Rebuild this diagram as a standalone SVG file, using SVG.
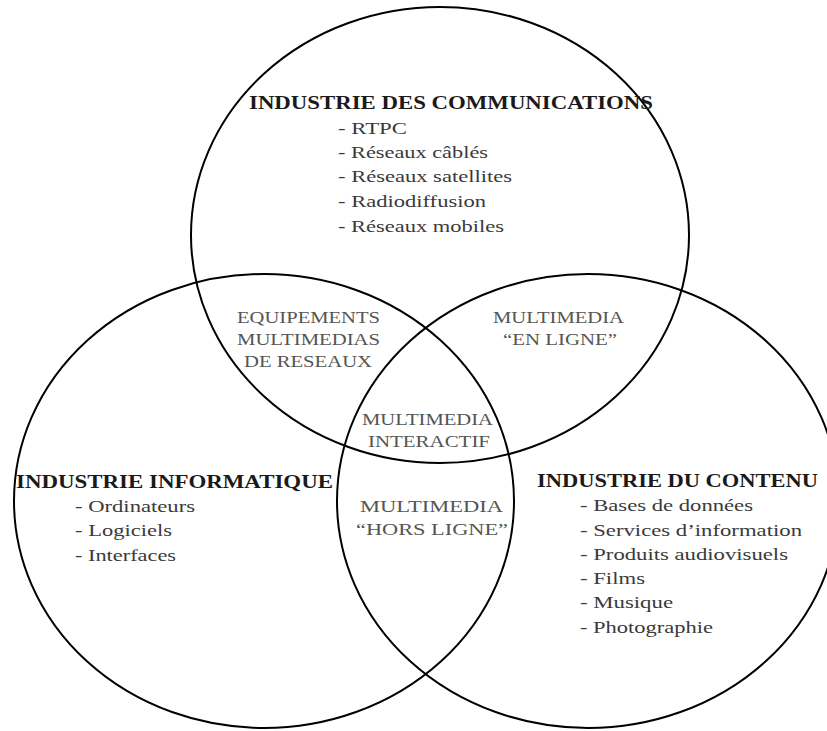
<svg xmlns="http://www.w3.org/2000/svg" width="827" height="731" viewBox="0 0 827 731">
<style>
.c{fill:none;stroke:#000;stroke-width:2}
text{font-family:"Liberation Serif","Times New Roman",serif}
.h{font-size:18px;font-weight:bold;fill:#1a1a1a}
.i{font-size:17px;fill:#3a3a3a}
.r{font-size:17px;fill:#555}
</style>
<rect width="827" height="731" fill="#fff"/>
<g id="circles">
<ellipse class="c" cx="440" cy="235" rx="249" ry="228"/>
<ellipse class="c" cx="264" cy="501" rx="250" ry="227"/>
<ellipse class="c" cx="588" cy="501" rx="251" ry="227"/>
</g>
<g id="communications">
<text class="h" x="249" y="109" textLength="404" lengthAdjust="spacingAndGlyphs">INDUSTRIE DES COMMUNICATIONS</text>
<text class="i" x="338" y="134" textLength="69" lengthAdjust="spacingAndGlyphs">- RTPC</text>
<text class="i" x="338" y="158" textLength="150" lengthAdjust="spacingAndGlyphs">- Réseaux câblés</text>
<text class="i" x="338" y="182" textLength="174" lengthAdjust="spacingAndGlyphs">- Réseaux satellites</text>
<text class="i" x="338" y="207" textLength="148" lengthAdjust="spacingAndGlyphs">- Radiodiffusion</text>
<text class="i" x="338" y="232" textLength="166" lengthAdjust="spacingAndGlyphs">- Réseaux mobiles</text>
</g>
<g id="informatique">
<text class="h" x="16" y="488" textLength="317" lengthAdjust="spacingAndGlyphs">INDUSTRIE INFORMATIQUE</text>
<text class="i" x="75" y="512" textLength="120" lengthAdjust="spacingAndGlyphs">- Ordinateurs</text>
<text class="i" x="75" y="536" textLength="97" lengthAdjust="spacingAndGlyphs">- Logiciels</text>
<text class="i" x="75" y="561" textLength="101" lengthAdjust="spacingAndGlyphs">- Interfaces</text>
</g>
<g id="contenu">
<text class="h" x="537" y="487" textLength="281" lengthAdjust="spacingAndGlyphs">INDUSTRIE DU CONTENU</text>
<text class="i" x="580" y="511" textLength="173" lengthAdjust="spacingAndGlyphs">- Bases de données</text>
<text class="i" x="580" y="536" textLength="222" lengthAdjust="spacingAndGlyphs">- Services d’information</text>
<text class="i" x="580" y="560" textLength="208" lengthAdjust="spacingAndGlyphs">- Produits audiovisuels</text>
<text class="i" x="580" y="584" textLength="65" lengthAdjust="spacingAndGlyphs">- Films</text>
<text class="i" x="580" y="608" textLength="93" lengthAdjust="spacingAndGlyphs">- Musique</text>
<text class="i" x="580" y="633" textLength="133" lengthAdjust="spacingAndGlyphs">- Photographie</text>
</g>
<g id="equipements">
<text class="r" x="237" y="323" textLength="143" lengthAdjust="spacingAndGlyphs">EQUIPEMENTS</text>
<text class="r" x="237" y="345" textLength="143" lengthAdjust="spacingAndGlyphs">MULTIMEDIAS</text>
<text class="r" x="244" y="367" textLength="128" lengthAdjust="spacingAndGlyphs">DE RESEAUX</text>
</g>
<g id="en-ligne">
<text class="r" x="493" y="323" textLength="131" lengthAdjust="spacingAndGlyphs">MULTIMEDIA</text>
<text class="r" x="503" y="345" textLength="114" lengthAdjust="spacingAndGlyphs">“EN LIGNE”</text>
</g>
<g id="interactif">
<text class="r" x="362" y="425" textLength="131" lengthAdjust="spacingAndGlyphs">MULTIMEDIA</text>
<text class="r" x="368" y="447" textLength="122" lengthAdjust="spacingAndGlyphs">INTERACTIF</text>
</g>
<g id="hors-ligne">
<text class="r" x="360" y="512" textLength="143" lengthAdjust="spacingAndGlyphs">MULTIMEDIA</text>
<text class="r" x="356" y="535" textLength="152" lengthAdjust="spacingAndGlyphs">“HORS LIGNE”</text>
</g>
<g id="connectors"/>
</svg>
